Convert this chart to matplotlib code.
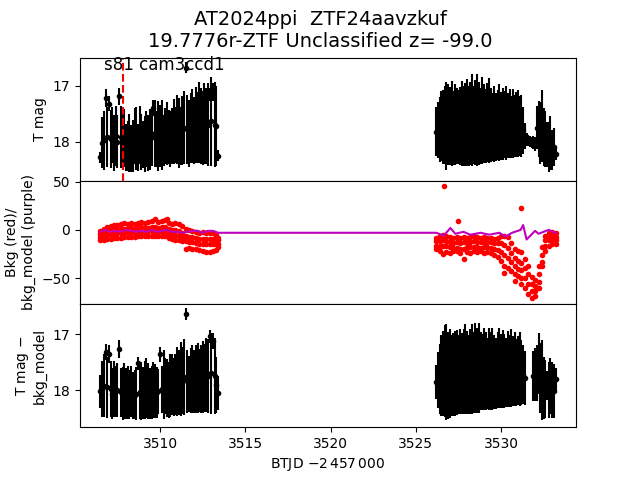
import numpy as np
import matplotlib
matplotlib.use("Agg")
import matplotlib.pyplot as plt

# times of the two observing windows
t1 = [3506.5, 3506.6, 3506.7, 3506.8, 3506.9, 3507.0, 3507.1, 3507.2, 3507.3, 3507.4,
      3507.5, 3507.6, 3507.7, 3507.8, 3507.9, 3508.0, 3508.1, 3508.2, 3508.3, 3508.4,
      3508.5, 3508.6, 3508.7, 3508.8, 3508.9, 3509.0, 3509.1, 3509.2, 3509.3, 3509.4,
      3509.5, 3509.6, 3509.7, 3509.8, 3509.9, 3510.0, 3510.1, 3510.2, 3510.3, 3510.4,
      3510.5, 3510.6, 3510.7, 3510.8, 3510.9, 3511.0, 3511.1, 3511.2, 3511.3, 3511.4,
      3511.5, 3511.6, 3511.7, 3511.8, 3511.9, 3512.0, 3512.1, 3512.2, 3512.3, 3512.4,
      3512.5, 3512.6, 3512.7, 3512.8, 3512.9, 3513.0, 3513.1, 3513.2, 3513.3, 3513.4]
t2 = [3526.2, 3526.3, 3526.4, 3526.5, 3526.6, 3526.7, 3526.8, 3526.9, 3527.0, 3527.1,
      3527.2, 3527.3, 3527.4, 3527.5, 3527.6, 3527.7, 3527.8, 3527.9, 3528.0, 3528.1,
      3528.2, 3528.3, 3528.4, 3528.5, 3528.6, 3528.7, 3528.8, 3528.9, 3529.0, 3529.1,
      3529.2, 3529.3, 3529.4, 3529.5, 3529.6, 3529.7, 3529.8, 3529.9, 3530.0, 3530.1,
      3530.2, 3530.3, 3530.4, 3530.5, 3530.6, 3530.7, 3530.8, 3530.9, 3531.0, 3531.1,
      3531.2, 3531.3, 3531.4, 3531.5, 3531.6, 3531.7, 3531.8, 3531.9, 3532.0, 3532.1,
      3532.2, 3532.3, 3532.4, 3532.5, 3532.6, 3532.7, 3532.8, 3532.9, 3533.0, 3533.1,
      3533.2]

# T mag, top panel
mag1 = [18.28, 18.02, 17.98, 17.22, 17.92, 17.32, 17.96, 17.88, 18.02, 17.90,
        18.00, 17.19, 17.92, 18.00, 17.94, 18.10, 18.08, 18.02, 18.12, 18.08,
        17.90, 17.95, 18.10, 17.88, 18.00, 18.05, 18.05, 17.96, 18.03, 17.96,
        17.92, 17.40, 17.85, 17.95, 17.90, 17.90, 17.88, 17.98, 17.90, 17.86,
        17.92, 17.96, 17.90, 17.82, 17.88, 17.78, 17.85, 17.90, 17.80, 17.75,
        16.68, 17.78, 17.85, 17.76, 17.72, 17.80, 17.70, 17.75, 17.66, 17.72,
        17.76, 17.68, 17.72, 17.70, 17.16, 17.64, 17.12, 17.70, 17.72, 18.25]
err1 = [0.10, 0.46, 0.52, 0.16, 0.54, 0.14, 0.52, 0.50, 0.50, 0.54,
        0.48, 0.15, 0.56, 0.50, 0.52, 0.42, 0.44, 0.52, 0.42, 0.46,
        0.50, 0.56, 0.42, 0.52, 0.50, 0.42, 0.50, 0.50, 0.50, 0.55,
        0.52, 0.14, 0.60, 0.50, 0.62, 0.55, 0.62, 0.45, 0.50, 0.56,
        0.48, 0.50, 0.50, 0.58, 0.50, 0.62, 0.62, 0.52, 0.62, 0.65,
        0.10, 0.62, 0.60, 0.62, 0.66, 0.60, 0.68, 0.64, 0.72, 0.68,
        0.66, 0.72, 0.68, 0.74, 0.12, 0.80, 0.16, 0.76, 0.72, 0.10]
mag2 = [17.82, 17.80, 17.78, 17.72, 17.74, 17.70, 17.72, 17.70, 17.72, 17.68,
        17.75, 17.70, 17.72, 17.74, 17.72, 17.68, 17.72, 17.70, 17.66, 17.72,
        17.68, 17.62, 17.70, 17.66, 17.62, 17.68, 17.72, 17.62, 17.68, 17.72,
        17.66, 17.62, 17.70, 17.74, 17.68, 17.74, 17.70, 17.66, 17.72, 17.68,
        17.70, 17.66, 17.72, 17.68, 17.74, 17.68, 17.72, 17.70, 17.68, 17.72,
        17.72, 17.80, 17.90, 17.96, 17.98, 18.00, 18.02, 18.02, 18.04, 17.75,
        17.78, 17.85, 17.72, 17.92, 17.95, 18.05, 18.10, 18.02, 18.15, 18.10,
        18.22]
err2 = [0.44, 0.50, 0.58, 0.62, 0.66, 0.70, 0.78, 0.72, 0.70, 0.76,
        0.66, 0.72, 0.68, 0.66, 0.70, 0.76, 0.72, 0.74, 0.78, 0.72,
        0.74, 0.82, 0.70, 0.76, 0.82, 0.74, 0.68, 0.78, 0.70, 0.66,
        0.70, 0.76, 0.66, 0.60, 0.68, 0.60, 0.62, 0.68, 0.60, 0.64,
        0.60, 0.66, 0.58, 0.62, 0.56, 0.62, 0.56, 0.58, 0.60, 0.54,
        0.56, 0.42, 0.24, 0.12, 0.10, 0.10, 0.10, 0.12, 0.12, 0.38,
        0.50, 0.55, 0.64, 0.52, 0.50, 0.40, 0.45, 0.48, 0.36, 0.34,
        0.10]

# T mag - bkg_model, bottom panel (nan where there is no point)
sub1 = [18.02, 17.98, 17.92, 17.32, 17.95, 17.36, 17.98, 18.06, 17.98, 18.02,
        18.00, 17.27, 18.04, 18.06, 18.02, 18.06, 18.04, 18.08, 18.02, 18.10,
        18.08, 18.06, 17.52, 18.04, 18.02, 18.05, 18.00, 17.96, 18.02, 18.06,
        18.04, 18.00, 18.02, 18.04, 18.02, 17.36, 17.98, 17.90, 17.92, 17.96,
        18.00, 17.92, 17.90, 17.94, 17.90, 17.84, 17.86, 17.80, 17.82, 17.76,
        16.64, 17.84, 17.88, 17.82, 17.80, 17.84, 17.80, 17.78, 17.82, 17.80,
        17.76, 17.78, 17.72, 17.74, 17.04, 17.70, 17.12, 17.74, 17.90, 18.05]
sube1 = [0.30, 0.50, 0.56, 0.14, 0.54, 0.16, 0.50, 0.46, 0.50, 0.46,
         0.48, 0.16, 0.44, 0.48, 0.50, 0.46, 0.48, 0.44, 0.46, 0.42,
         0.44, 0.48, 0.12, 0.48, 0.52, 0.46, 0.52, 0.54, 0.50, 0.46,
         0.48, 0.50, 0.48, 0.46, 0.40, 0.14, 0.42, 0.62, 0.50, 0.52,
         0.50, 0.56, 0.54, 0.52, 0.54, 0.62, 0.58, 0.66, 0.60, 0.68,
         0.10, 0.56, 0.50, 0.58, 0.60, 0.56, 0.60, 0.62, 0.56, 0.60,
         0.64, 0.60, 0.66, 0.66, 0.12, 0.72, 0.14, 0.68, 0.50, 0.30]
sub2 = [17.85, 17.82, 17.80, 17.74, 17.70, 17.66, 17.68, 17.74, 17.70, 17.74,
        17.72, 17.70, 17.68, 17.72, 17.66, 17.70, 17.66, 17.62, 17.68, 17.72,
        17.66, 17.62, 17.68, 17.60, 17.64, 17.60, 17.66, 17.68, 17.62, 17.66,
        17.70, 17.62, 17.66, 17.62, 17.68, 17.70, 17.64, 17.60, 17.66, 17.62,
        17.66, 17.68, 17.62, 17.66, 17.60, 17.66, 17.62, 17.68, 17.65, 17.62,
        17.68, 17.72, 17.78, np.nan, np.nan, np.nan, np.nan, 17.75, 17.72, 17.70,
        17.52, 17.78, 17.82, 17.96, 17.98, 17.92, 18.00, 17.92, 18.00, 18.02,
        17.80]
sube2 = [0.30, 0.50, 0.62, 0.72, 0.76, 0.82, 0.86, 0.78, 0.80, 0.72,
         0.74, 0.76, 0.76, 0.70, 0.76, 0.72, 0.76, 0.80, 0.74, 0.70,
         0.76, 0.80, 0.72, 0.80, 0.76, 0.80, 0.70, 0.68, 0.74, 0.70,
         0.64, 0.74, 0.70, 0.74, 0.66, 0.64, 0.68, 0.72, 0.66, 0.70,
         0.66, 0.62, 0.68, 0.64, 0.70, 0.62, 0.66, 0.60, 0.62, 0.66,
         0.58, 0.52, 0.48, 0.0, 0.0, 0.0, 0.0, 0.45, 0.48, 0.50,
         0.54, 0.62, 0.72, 0.55, 0.52, 0.26, 0.50, 0.50, 0.50, 0.48,
         0.20]

# background, rows from the top to the bottom of the red band
tb1 = [3506.5, 3506.7, 3506.9, 3507.1, 3507.3, 3507.5, 3507.7, 3507.9, 3508.1, 3508.3,
       3508.5, 3508.7, 3508.9, 3509.1, 3509.3, 3509.5, 3509.7, 3509.9, 3510.1, 3510.3,
       3510.5, 3510.7, 3510.9, 3511.1, 3511.3, 3511.5, 3511.7, 3511.9, 3512.1, 3512.3,
       3512.5, 3512.7, 3512.9, 3513.1, 3513.3, 3513.4]
bkg1_a = [-1, 1, 3, 4, 5, 5, 6, 7, 6, 7, 6, 7, 8, 7, 8, 9, 11, 8, 9, 10,
          7, 6, 7, 6, 4, 1, 0, -1, -2, -3, -2, -3, -3, -3, -5, -8]
bkg1_b = [-4, -3, -1, 0, 0, 1, 1, 1, 2, 2, 1, 2, 3, 2, 2, 3, 3, 2, 3, 3,
          1, 0, 0, -1, -3, -6, -7, -7, -8, -9, -9, -9, -9, -9, -10, -11]
bkg1_c = [-7, -6, -5, -4, -4, -3, -3, -3, -2, -2, -3, -2, -2, -2, -1, -1, -1, -2, -1, -1,
          -3, -4, -5, -6, -8, -12, -13, -13, -14, -15, -15, -15, -15, -15, -15, -15]
bkg1_d = [-11, -10, -9, -9, -8, -8, -8, -7, -7, -7, -7, -6, -6, -6, -6, -6, -6, -6, -6, -6,
          -8, -9, -10, -10, -12, -20, -19, -20, -20, -21, -22, -23, -23, -22, -21, -18]
tb2 = [3526.2, 3526.4, 3526.6, 3526.8, 3527.0, 3527.2, 3527.4, 3527.6, 3527.8, 3528.0,
       3528.2, 3528.4, 3528.6, 3528.8, 3529.0, 3529.2, 3529.4, 3529.6, 3529.8, 3530.0,
       3530.2, 3530.4, 3530.6, 3530.8, 3531.0, 3531.2, 3531.4, 3531.6, 3531.8, 3532.0,
       3532.2, 3532.4, 3532.6, 3532.8, 3533.0, 3533.2]
bkg2_a = [-8, -6, -5, -6, -7, -8, -7, -8, -7, -8, -7, -6, -7, -8, -7, -8, -8, -9, -8, -6,
          -6, -7, -14, -20, -22, -23, -30, -38, -49, -52, -38, -18, -6, -3, -2, -3]
bkg2_b = [-12, -12, -11, -12, -13, -14, -13, -14, -13, -13, -13, -12, -13, -13, -13, -13, -13, -14, -14, -14,
          -16, -19, -24, -29, -32, -34, -40, -46, -56, -58, -46, -26, -11, -7, -6, -7]
bkg2_c = [-17, -17, -17, -17, -18, -19, -19, -20, -20, -18, -18, -18, -18, -19, -18, -18, -19, -20, -21, -23,
          -26, -29, -33, -38, -41, -42, -50, -56, -63, -63, -54, -33, -17, -11, -10, -11]
bkg2_d = [-20, -22, -25, -23, -24, -22, -22, -24, -30, -23, -24, -22, -23, -22, -24, -23, -24, -26, -28, -32,
          -37, -40, -43, -46, -48, -50, -60, -67, -71, -69, -60, -38, -22, -17, -15, -15]
# stray background points
t_out = [3526.64, 3527.5, 3531.2, 3530.17, 3530.8, 3531.15, 3510.4]
bkg_out = [45.8, 9, 22.6, -45, -53, -56, 11]

# background model (purple)
t_model = [3506.5, 3506.8, 3507.1, 3507.4, 3507.7, 3508.0, 3508.3, 3508.6, 3508.9, 3509.2,
           3509.5, 3509.8, 3510.1, 3510.4, 3510.7, 3511.0, 3511.3, 3511.6, 3511.9, 3512.2,
           3512.5, 3512.8, 3513.1, 3513.4, 3526.2, 3526.64, 3527.03, 3527.32, 3527.8, 3528.2,
           3528.8, 3529.3, 3529.9, 3530.26, 3530.65, 3531.15, 3531.3, 3531.5, 3532.0, 3532.2,
           3532.8, 3533.2]
model = [-2, 0, -2, -1, -2, 0, -1, -2, -1, -2,
         0, -2, -1, 0, -2, -2, -3, -2, -1, -1,
         -3, -1, -1, -3, -3, -6, 2, -4, -2, -5,
         -3, -5, -3, -7, -3, 0, 5, -10, -1, -4,
         0, -3]

# measured right after the model is flat across the gap
xticks = [3510, 3515, 3520, 3525, 3530]
t_peak = 3507.8

fig, (ax1, ax2, ax3) = plt.subplots(3, 1, sharex=True)
fig.subplots_adjust(hspace=0)

ax1.errorbar(t1, mag1, yerr=err1, fmt='k.')
ax1.errorbar(t2, mag2, yerr=err2, fmt='k.')
ax1.axvline(t_peak, color='r', ls='--')
ax1.text(3506.7, 16.73, "s81 cam3ccd1", fontsize=12)
ax1.set_ylim(18.7, 16.5)
ax1.set_yticks([17, 18])
ax1.set_ylabel("T mag")

for row in [bkg1_a, bkg1_b, bkg1_c, bkg1_d]:
    ax2.plot(tb1, row, 'r.')
for row in [bkg2_a, bkg2_b, bkg2_c, bkg2_d]:
    ax2.plot(tb2, row, 'r.')
ax2.plot(t_out, bkg_out, 'r.')
ax2.plot(t_model, model, 'm-')
ax2.set_ylim(-77, 51)
ax2.set_yticks([-50, 0, 50])
ax2.set_ylabel("Bkg (red)/\nbkg_model (purple)")

ax3.errorbar(t1, sub1, yerr=sube1, fmt='k.')
ax3.errorbar(t2, sub2, yerr=sube2, fmt='k.')
ax3.set_ylim(18.66, 16.46)
ax3.set_yticks([17, 18])
ax3.set_ylabel("T mag $-$\nbkg_model")
ax3.set_xlim(3505.3, 3534.4)
ax3.set_xticks(xticks)
ax3.set_xlabel("BTJD $-2\\,457\\,000$")

ax1.tick_params(bottom=False)
ax2.tick_params(bottom=False)

fig.suptitle("AT2024ppi  ZTF24aavzkuf\n19.7776r-ZTF Unclassified z= -99.0", fontsize=14)
fig.savefig("out.png", dpi=100)
